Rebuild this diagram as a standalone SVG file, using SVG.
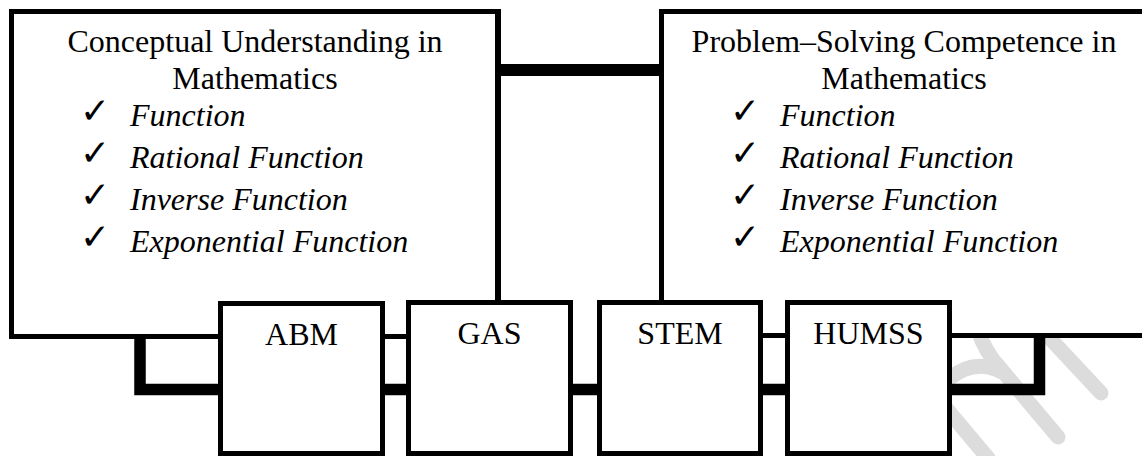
<svg xmlns="http://www.w3.org/2000/svg" width="1142" height="456" viewBox="0 0 1142 456">
<defs>
<style>
.box{fill:#fff;stroke:#000;stroke-width:5}
.thin{fill:none;stroke:#000;stroke-width:5}
.thick{fill:none;stroke:#000;stroke-width:11.5;stroke-linejoin:miter}
.wm{fill:none;stroke:#dcdcdc;stroke-width:15;stroke-linecap:round}
.t{font-family:"Liberation Serif","Times New Roman",serif;font-size:32px;fill:#000}
.c{text-anchor:middle}
.i{font-style:italic}
.ck{font-family:"DejaVu Sans",sans-serif;font-size:36px;font-weight:bold;fill:#000}
</style>
</defs>
<rect width="1142" height="456" fill="#fff"/>
<g id="watermark">
<path class="wm" d="M1030,317 L1101,393"/>
<path class="wm" d="M978,330 Q985,352 1000,368 L1058,437"/>
<path class="wm" d="M950,378 Q975,358 1002,372"/>
<path class="wm" d="M935,395 L988,458"/>
</g>
<g id="connectors">
<path class="thick" d="M498,70 H661" style="stroke-width:12"/>
<path class="thick" d="M140,337 V389.5 H1039.5 V336"/>
<path class="thin" d="M498,336 V302" style="stroke-width:6"/>
<path class="thin" d="M661.5,335 V302"/>
</g>
<g id="node-conceptual">
<rect class="box" x="11.5" y="11.5" width="486.5" height="325"/>
<path d="M498,9 V339" style="stroke:#000;stroke-width:6"/>
<text class="t c" x="255" y="52">Conceptual Understanding in</text>
<text class="t c" x="255" y="89">Mathematics</text>
<text class="ck" x="80" y="123">✓</text>
<text class="t i" x="130" y="126">Function</text>
<text class="ck" x="80" y="165">✓</text>
<text class="t i" x="130" y="168">Rational Function</text>
<text class="ck" x="80" y="207">✓</text>
<text class="t i" x="130" y="210">Inverse Function</text>
<text class="ck" x="80" y="249">✓</text>
<text class="t i" x="130" y="252">Exponential Function</text>
</g>
<g id="node-problem">
<rect class="box" x="661.5" y="11.5" width="500" height="324"/>
<text class="t c" x="904" y="52">Problem–Solving Competence in</text>
<text class="t c" x="904" y="89">Mathematics</text>
<text class="ck" x="730" y="123">✓</text>
<text class="t i" x="780" y="126">Function</text>
<text class="ck" x="730" y="165">✓</text>
<text class="t i" x="780" y="168">Rational Function</text>
<text class="ck" x="730" y="207">✓</text>
<text class="t i" x="780" y="210">Inverse Function</text>
<text class="ck" x="730" y="249">✓</text>
<text class="t i" x="780" y="252">Exponential Function</text>
</g>
<g id="node-abm">
<rect class="box" x="220.5" y="303.5" width="162" height="150"/>
<text class="t c" x="301.5" y="345">ABM</text>
</g>
<g id="node-gas">
<rect class="box" x="408.5" y="302.5" width="162" height="151"/>
<text class="t c" x="489.5" y="344">GAS</text>
</g>
<g id="node-stem">
<rect class="box" x="599.5" y="302.5" width="161" height="151"/>
<text class="t c" x="680" y="344">STEM</text>
</g>
<g id="node-humss">
<rect class="box" x="787.5" y="302.5" width="162" height="151"/>
<text class="t c" x="868.5" y="344">HUMSS</text>
</g>
</svg>
